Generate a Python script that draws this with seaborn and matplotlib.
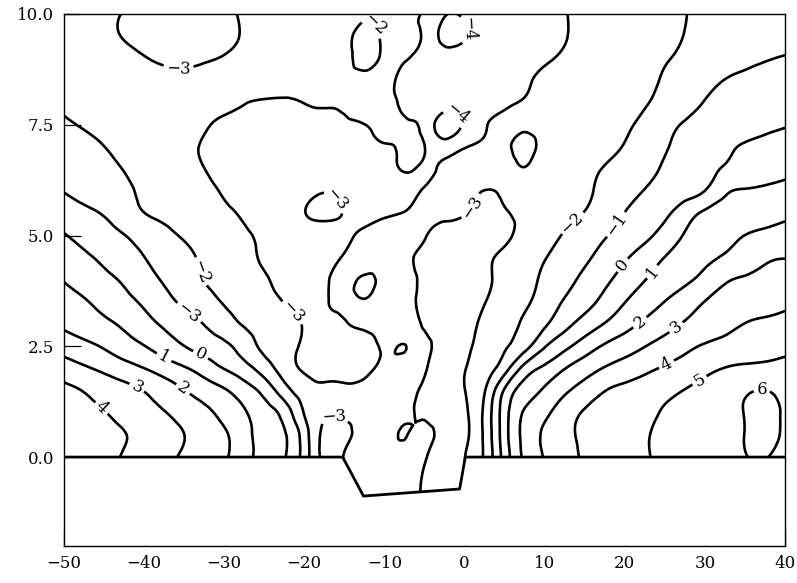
import matplotlib

matplotlib.use("Agg")
import matplotlib.pyplot as plt
import matplotlib.tri as mtri
import numpy as np
import seaborn as sns
from matplotlib.ticker import FormatStrFormatter

sns.set_theme(style="ticks")
plt.rcParams["font.family"] = ["DejaVu Serif"]

# nodes the field was read at (x every 2.5, y every 0.5; y = -1 is the trench floor)
x_nodes = np.arange(-50.0, 40.01, 2.5)
y_nodes = [-1.0, 0.0, 0.5, 1.0, 1.5, 2.0, 2.5, 3.0, 3.5, 4.0, 4.5,
           5.0, 5.5, 6.0, 6.5, 7.0, 7.5, 8.0, 8.5, 9.0, 9.5, 10.0]

row_m10 = [5.0, 4.64, 4.29, 3.93, 3.58, 3.23, 2.87, 2.49, 2.12, 1.37, 0.65, 0.07, -1.45, -3.2, -2.9, -2.8, -2.8, -2.85, -3.05,
           -3.3, -3.2, -1.85, 0.42, 2.2, 3.05, 3.64, 4.11, 4.38, 4.66, 4.93, 5.16, 5.36, 5.57, 5.78, 5.98, 6.02, 5.85]
row_00 = [5.0, 4.64, 4.29, 3.93, 3.58, 3.23, 2.87, 2.49, 2.12, 1.37, 0.65, 0.07, -1.45, -3.2, -2.97, -2.8, -2.75, -2.85, -2.95,
          -3.3, -3.02, -1.85, 0.42, 2.2, 3.05, 3.64, 4.11, 4.38, 4.66, 4.93, 5.16, 5.36, 5.57, 5.78, 5.98, 6.02, 5.85]
row_05 = [4.75, 4.51, 4.28, 4.04, 3.71, 3.36, 3.01, 2.57, 2.13, 1.36, 0.67, 0.11, -1.5, -3.25, -3.2, -2.85, -2.75, -3.03, -2.8,
          -3.35, -3.2, -1.81, 0.58, 2.28, 3.15, 3.76, 4.16, 4.42, 4.68, 4.94, 5.16, 5.37, 5.58, 5.8, 6.01, 6.15, 5.9]
row_10 = [4.45, 4.25, 4.04, 3.73, 3.39, 3.05, 2.65, 2.23, 1.72, 1.1, 0.46, -0.39, -2.05, -2.9, -2.88, -2.8, -2.75, -2.9, -3.1,
          -3.4, -3.15, -1.79, 0.56, 2.11, 2.81, 3.51, 4.08, 4.33, 4.57, 4.82, 5.07, 5.3, 5.54, 5.78, 6.02, 6.18, 5.9]
row_15 = [4.2, 3.97, 3.64, 3.32, 2.98, 2.51, 2.04, 1.57, 1.11, 0.49, -0.32, -1.56, -2.55, -2.85, -2.88, -2.85, -2.8, -2.85, -3.1,
          -3.35, -3.02, -2.06, 0.12, 1.42, 2.17, 2.86, 3.43, 3.98, 4.25, 4.51, 4.77, 5.03, 5.32, 5.6, 5.88, 6.01, 5.7]
row_20 = [3.5, 3.15, 2.78, 2.4, 2.02, 1.56, 1.11, 0.56, -0.02, -0.62, -1.47, -2.47, -3.1, -3.25, -3.25, -3.15, -2.9, -2.85, -2.95,
          -3.3, -3.05, -2.38, -1.42, 0.37, 1.19, 1.97, 2.55, 3.07, 3.42, 3.77, 4.11, 4.43, 4.75, 5.03, 5.15, 5.2, 5.25]
row_25 = [2.58, 2.26, 1.91, 1.47, 1.04, 0.52, 0.02, -0.39, -0.78, -1.46, -2.22, -2.67, -3.12, -3.3, -3.35, -3.25, -2.95, -3.01, -2.9,
          -3.3, -3.2, -2.62, -2.07, -1.37, -0.08, 0.75, 1.49, 2.12, 2.56, 2.98, 3.37, 3.75, 4.1, 4.3, 4.5, 4.65, 4.78]
row_30 = [1.83, 1.52, 1.21, 0.84, 0.35, -0.13, -0.57, -1.02, -1.58, -2.07, -2.38, -2.69, -3.05, -3.2, -3.05, -2.9, -2.8, -2.8, -3.05,
          -3.35, -3.3, -2.83, -2.37, -1.86, -1.14, -0.31, 0.41, 1.05, 1.64, 2.19, 2.66, 3.09, 3.4, 3.71, 4.02, 4.15, 4.28]
row_35 = [1.39, 1.09, 0.72, 0.3, -0.15, -0.68, -1.18, -1.64, -2.06, -2.38, -2.71, -3.02, -3.25, -3.08, -2.9, -2.96, -2.85, -2.85, -3.15,
          -3.35, -3.35, -3.03, -2.57, -2.16, -1.57, -0.91, -0.34, 0.29, 0.98, 1.5, 2.02, 2.51, 3.02, 3.3, 3.55, 3.7, 3.83]
row_40 = [0.96, 0.61, 0.26, -0.13, -0.62, -1.09, -1.56, -2.01, -2.32, -2.64, -2.92, -3.2, -3.3, -3.1, -2.85, -3.07, -2.85, -2.85, -3.1,
          -3.35, -3.35, -3.15, -2.71, -2.29, -1.83, -1.31, -0.77, -0.2, 0.39, 0.98, 1.41, 1.82, 2.32, 2.89, 3.1, 3.27, 3.42]
row_45 = [0.51, 0.17, -0.19, -0.6, -0.98, -1.39, -1.78, -2.14, -2.46, -2.77, -3.1, -3.3, -3.3, -3.15, -2.95, -2.75, -2.85, -2.9, -3.15,
          -3.35, -3.35, -3.15, -2.8, -2.4, -2.04, -1.6, -1.16, -0.65, -0.11, 0.45, 1.02, 1.38, 1.75, 2.12, 2.49, 2.85, 2.98]
row_50 = [0.06, -0.28, -0.63, -0.97, -1.35, -1.74, -2.09, -2.36, -2.63, -2.9, -3.15, -3.35, -3.3, -3.2, -3.08, -2.9, -2.8, -2.8, -2.95,
          -3.3, -3.35, -3.3, -3.15, -2.7, -2.31, -1.92, -1.49, -1.07, -0.64, -0.21, 0.39, 1.06, 1.38, 1.69, 2.01, 2.2, 2.4]
row_55 = [-0.48, -0.76, -1.07, -1.53, -1.98, -2.21, -2.43, -2.65, -2.87, -3.08, -3.25, -3.25, -3.02, -2.9, -3.02, -3.15, -3.08, -2.98,
          -2.9, -2.85, -2.95, -3.2, -3.05, -2.85, -2.51, -2.24, -1.96, -1.47, -0.98, -0.59, -0.19, 0.52, 1.15, 1.35, 1.52, 1.66, 1.8]
row_60 = [-1.02, -1.3, -1.58, -1.86, -2.12, -2.36, -2.6, -2.84, -3.06, -3.25, -3.3, -3.3, -3.2, -3.02, -3.15, -3.3, -3.35, -3.2, -2.95,
          -2.8, -2.75, -3.02, -2.9, -2.8, -2.65, -2.4, -2.15, -1.76, -1.35, -0.96, -0.64, -0.32, 0.02, 0.83, 1.08, 1.18, 1.28]
row_65 = [-1.31, -1.55, -1.78, -2.02, -2.26, -2.51, -2.75, -2.99, -3.2, -3.35, -3.4, -3.4, -3.35, -3.3, -3.35, -3.4, -3.3, -2.95, -3.1,
          -2.85, -2.7, -2.6, -2.7, -2.97, -2.6, -2.4, -2.2, -1.95, -1.6, -1.25, -0.9, -0.57, -0.25, 0.08, 0.3, 0.55, 0.8]
row_70 = [-1.61, -1.8, -1.99, -2.21, -2.42, -2.64, -2.85, -3.05, -3.2, -3.3, -3.35, -3.35, -3.35, -3.35, -3.3, -3.2, -3.05, -2.85,
          -2.98, -3.5, -3.05, -2.85, -2.85, -3.2, -2.75, -2.6, -2.45, -2.2, -1.95, -1.49, -1.07, -0.75, -0.45, -0.15, 0.07, 0.22, 0.37]
row_75 = [-1.91, -2.05, -2.19, -2.34, -2.49, -2.65, -2.8, -2.95, -3.08, -3.15, -3.18, -3.18, -3.15, -3.12, -3.08, -3.01, -2.85, -2.9,
          -3.3, -4.5, -3.8, -3.05, -2.85, -2.88, -2.7, -2.55, -2.4, -2.25, -2.1, -1.8, -1.31, -0.93, -0.75, -0.56, -0.37, -0.19, -0.05]
row_80 = [-2.1, -2.25, -2.4, -2.55, -2.68, -2.8, -2.85, -2.88, -2.9, -2.98, -3.05, -3.08, -2.99, -2.92, -2.85, -2.6, -2.75, -3.15,
          -3.5, -3.6, -3.5, -3.4, -3.15, -2.95, -2.8, -2.65, -2.5, -2.37, -2.25, -2.06, -1.73, -1.33, -0.97, -0.8, -0.63, -0.49, -0.35]
row_85 = [-2.2, -2.35, -2.5, -2.65, -2.78, -2.88, -2.92, -2.88, -2.85, -2.8, -2.72, -2.66, -2.6, -2.5, -2.4, -2.3, -2.6, -3.3, -3.55,
          -3.65, -3.6, -3.5, -3.35, -3.1, -2.85, -2.7, -2.57, -2.45, -2.32, -2.2, -1.9, -1.59, -1.28, -0.98, -0.85, -0.76, -0.66]
row_90 = [-2.3, -2.45, -2.6, -2.8, -2.97, -3.08, -3.1, -3.05, -2.97, -2.85, -2.75, -2.65, -2.55, -2.45, -2.4, -1.6, -2.3, -2.92, -3.3,
          -3.6, -3.6, -3.55, -3.4, -3.25, -3.1, -2.9, -2.75, -2.6, -2.45, -2.3, -2.08, -1.84, -1.63, -1.42, -1.2, -1.05, -0.96]
row_95 = [-2.4, -2.6, -2.82, -3.03, -3.15, -3.22, -3.25, -3.2, -3.1, -2.96, -2.8, -2.7, -2.6, -2.5, -2.35, -1.6, -2.3, -2.85, -3.15,
          -4.3, -4.1, -3.6, -3.45, -3.3, -3.2, -3.03, -2.85, -2.7, -2.55, -2.4, -2.25, -1.98, -1.85, -1.7, -1.55, -1.4, -1.25]
row_100 = [-2.5, -2.7, -2.88, -3.02, -3.15, -3.22, -3.22, -3.18, -3.08, -2.95, -2.8, -2.7, -2.6, -2.5, -2.4, -2.2, -2.5, -2.85, -3.1,
           -3.9, -3.8, -3.55, -3.4, -3.3, -3.2, -3.03, -2.85, -2.7, -2.55, -2.4, -2.2, -2.02, -1.9, -1.8, -1.7, -1.62, -1.55]

levels = [-4, -3, -2, -1, 0, 1, 2, 3, 4, 5, 6]

# ground surface with the trench cut into it
ground_x = [-50, -15.2, -12.6, -0.6, 0.1, 40]
ground_y = [0, 0, -0.88, -0.72, 0, 0]

# inline labels: rough spot on the line, and the text printed there
label_xy = [(-35.7, 8.75), (-10.9, 9.8), (-0.3, 9.65), (-0.8, 7.75), (-15.3, 5.9), (0.9, 5.65),
            (-21.4, 3.27), (-33.2, 4.17), (-34.5, 3.23), (-37.4, 2.28), (-33.0, 2.28), (-40.8, 1.6),
            (-35.1, 1.54), (-45.1, 1.14), (-16.3, 1.0), (13.4, 5.3), (19.0, 5.24), (19.6, 4.35),
            (23.3, 4.2), (21.9, 3.04), (26.4, 2.93), (25.2, 2.1), (29.1, 1.8), (37.1, 1.47)]
label_txt = ["−3", "−2", "−4", "−4", "−3", "−3", "−3", "−2", "−3", "1", "0", "3",
             "2", "4", "−3", "−2", "−1", "0", "1", "2", "3", "4", "5", "6"]

z = np.array([row_m10, row_00, row_05, row_10, row_15, row_20, row_25, row_30, row_35, row_40, row_45,
              row_50, row_55, row_60, row_65, row_70, row_75, row_80, row_85, row_90, row_95, row_100])
xx, yy = np.meshgrid(x_nodes, y_nodes)
idx = np.arange(z.size).reshape(z.shape)
a, b = idx[:-1, :-1].ravel(), idx[:-1, 1:].ravel()
c, d = idx[1:, 1:].ravel(), idx[1:, :-1].ravel()
tris = np.vstack([np.c_[a, b, c], np.c_[a, c, d]])

# squeeze x so the cells are about square on screen, smooth, then stretch back
tri = mtri.Triangulation(xx.ravel() / 5, yy.ravel(), tris)
fine, z_fine = mtri.UniformTriRefiner(tri).refine_field(z.ravel(), subdiv=3)
fine = mtri.Triangulation(fine.x * 5, fine.y, fine.triangles)

fig, ax = plt.subplots(figsize=(7.97, 5.83), dpi=100)
fig.subplots_adjust(left=0.08, right=0.985, bottom=0.064, top=0.976)

cs = ax.tricontour(fine, z_fine, levels=levels, colors="black", linewidths=1.9,
                   linestyles="solid", zorder=2)
ax.fill(ground_x + [40, -50], ground_y + [-2, -2], color="white", lw=0, zorder=2.1)
ax.plot(ground_x, ground_y, color="black", lw=2.0, zorder=2.2)

ax.set_xlim(-50, 40)
ax.set_ylim(-2, 10)
ax.set_xticks(range(-50, 41, 10))
ax.set_yticks([0, 2.5, 5, 7.5, 10])
ax.yaxis.set_major_formatter(FormatStrFormatter("%.1f"))
ax.tick_params(direction="in", length=12, width=0.9, labelsize=12, pad=7, colors="black")
for s in ax.spines.values():
    s.set_linewidth(1.0)
    s.set_color("black")

fmt = {lv: str(lv).replace("-", "\u2212") for lv in levels}
texts = ax.clabel(cs, inline=True, inline_spacing=3, fontsize=12, fmt=fmt, manual=label_xy)
for t, s in zip(texts, label_txt):
    t.set_text(s)

fig.savefig("out.png", dpi=100)
